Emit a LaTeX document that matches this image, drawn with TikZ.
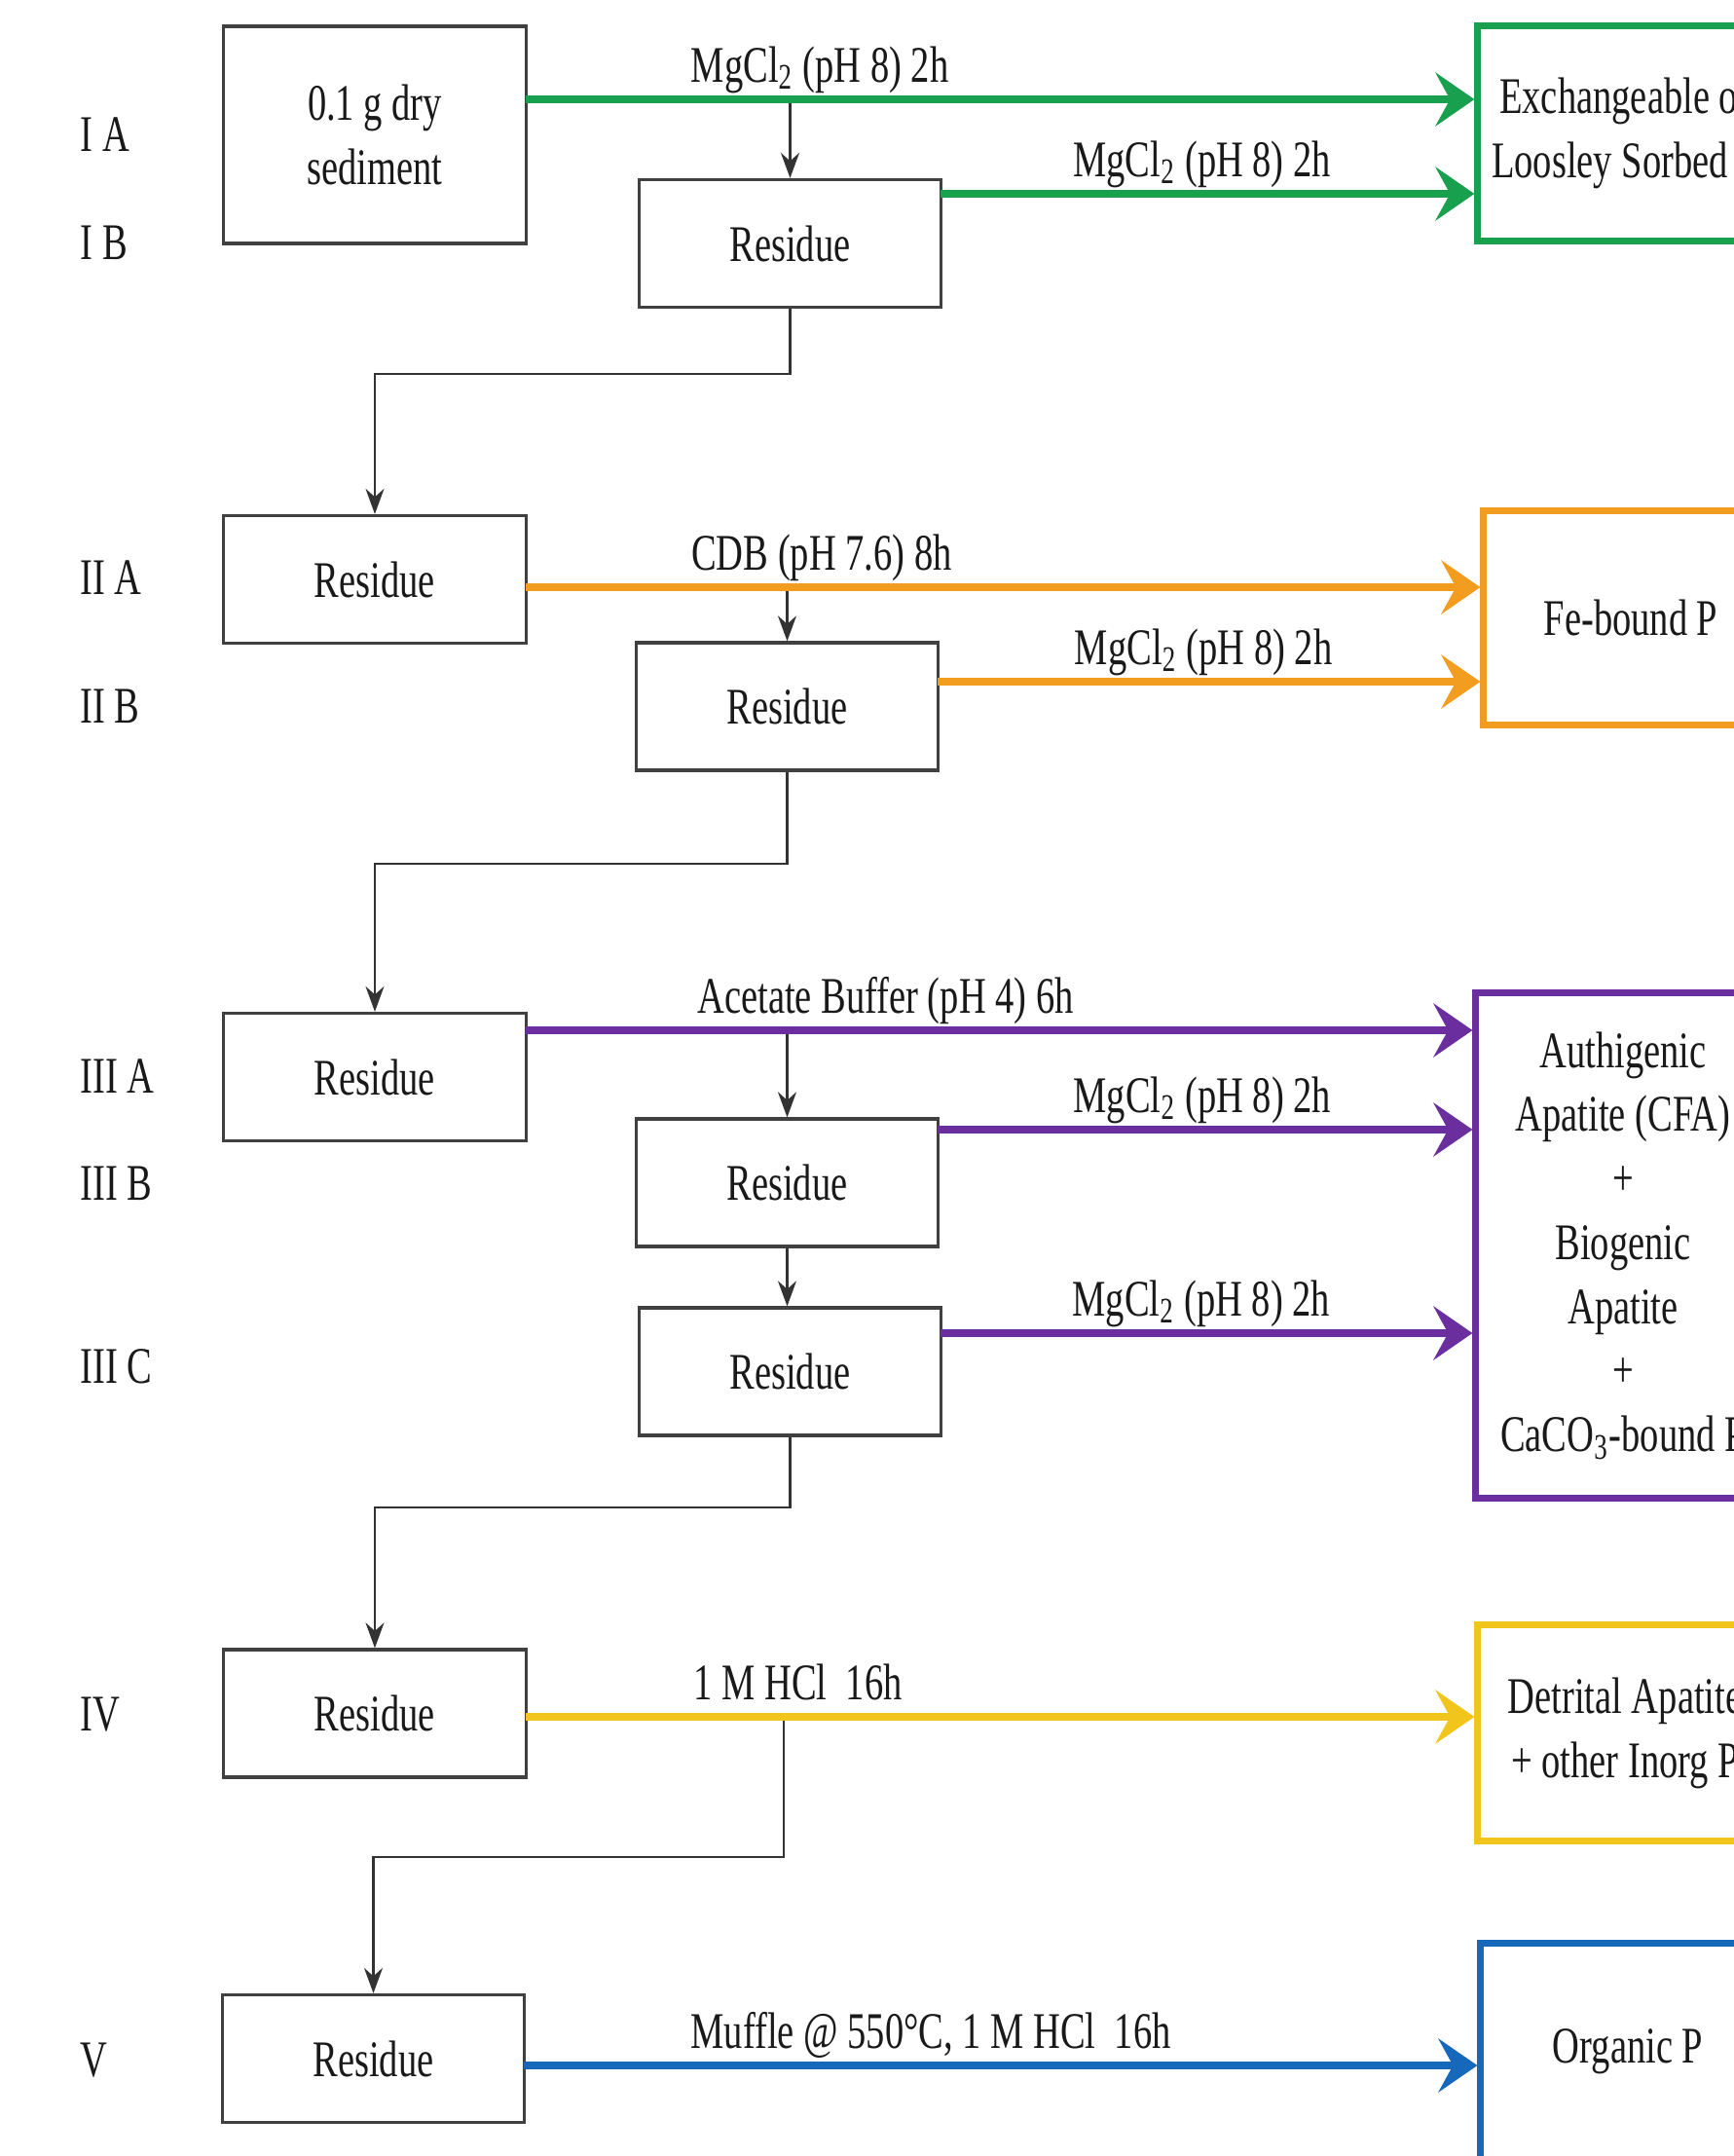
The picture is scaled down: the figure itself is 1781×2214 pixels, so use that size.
\documentclass[tikz,border=0pt]{standalone}
\usepackage{fontspec}
\setmainfont{Liberation Serif}[FakeStretch=0.73]
\usetikzlibrary{arrows.meta}
\definecolor{pgreen}{RGB}{24,160,78}
\definecolor{porange}{RGB}{243,157,32}
\definecolor{ppurple}{RGB}{106,46,158}
\definecolor{pyellow}{RGB}{242,197,28}
\definecolor{pblue}{RGB}{22,104,186}
\begin{document}
\begin{tikzpicture}[x=0.01cm,y=-0.01cm]
\tikzstyle{every node}+=[font=\fontsize{15pt}{18.7pt}\selectfont, text=black!90]
\tikzstyle{res}=[draw=black!75, line width=0.9pt, minimum width=3.1cm, minimum height=1.31cm, inner sep=0pt, align=center]
\tikzstyle{pool}=[line width=2pt, minimum width=3.02cm, inner sep=0pt, align=center]
\tikzstyle{flow}=[line width=2.2pt, -{Stealth[length=0.4cm,width=0.55cm,inset=0.15cm]}]
\tikzstyle{drop}=[draw=black!80, line width=0.6pt, -{Stealth[length=0.26cm,width=0.19cm]}]
\tikzstyle{lbl}=[anchor=base, yshift=1.8mm, inner sep=0pt]
\tikzstyle{row}=[anchor=west, inner sep=0pt]
\useasboundingbox (0,0) rectangle (1781,2214);
\fill [white] (0,0) rectangle (1781,2214);
\clip (0,0) rectangle (1781,2214);
\node [row] (tIA) at (82,138) {I A};
\node [row] (tIB) at (82,249) {I B};
\node [row] (tIIA) at (82,593) {II A};
\node [row] (tIIB) at (82,725) {II B};
\node [row] (tIIIA) at (82,1105) {III A};
\node [row] (tIIIB) at (82,1215) {III B};
\node [row] (tIIIC) at (82,1403) {III C};
\node [row] (tIV) at (82,1761) {IV};
\node [row] (tV) at (82,2116) {V};
\node [res, minimum height=2.23cm] (b0) at (385,138.5) {0.1 g dry\\sediment};
\node [res] (r1b) at (811.5,250) {Residue};
\node [res] (r2a) at (385,595) {Residue};
\node [res] (r2b) at (808.5,725.5) {Residue};
\node [res] (r3a) at (385,1106) {Residue};
\node [res] (r3b) at (808.5,1214.5) {Residue};
\node [res] (r3c) at (811.5,1408.5) {Residue};
\node [res] (r4) at (385,1759.5) {Residue};
\node [res] (r5) at (383.5,2114) {Residue};
\node [pool, draw=pgreen, minimum height=2.2cm] (ex) at (1669,137) {Exchangeable or\\Loosley Sorbed P};
\node [pool, draw=porange, minimum height=2.19cm] (fe) at (1675,634.5) {Fe-bound P};
\node [pool, draw=ppurple, minimum height=5.18cm] (ap) at (1667,1279) {Authigenic\\Apatite (CFA)\\+\\Biogenic\\Apatite\\+\\CaCO\textsubscript{3}-bound P};
\node [pool, draw=pyellow, minimum height=2.21cm] (dt) at (1669,1779.5) {Detrital Apatite\\+ other Inorg P};
\node [pool, draw=pblue, minimum height=2.22cm] (org) at (1672,2107) {Organic P};
\coordinate (a1) at (540,102);
\coordinate (m1) at (966,199);
\coordinate (a2) at (540,603);
\coordinate (m2) at (963,700);
\coordinate (a3) at (540,1058);
\coordinate (m3) at (963,1160);
\coordinate (m4) at (966,1369);
\coordinate (a4) at (540,1763);
\coordinate (a5) at (538,2121);
\coordinate (k1) at (600,384);
\coordinate (k2) at (600,887);
\coordinate (k3) at (600,1548);
\coordinate (k4) at (805,1907);
\draw [drop] (a1 -| r1b.north) -- (r1b.north);
\draw [drop] (r1b.south) |- (k1) -| (r2a.north);
\draw [drop] (a2 -| r2b.north) -- (r2b.north);
\draw [drop] (r2b.south) |- (k2) -| (r3a.north);
\draw [drop] (a3 -| r3b.north) -- (r3b.north);
\draw [drop] (r3b.south) -- (r3c.north -| r3b.south);
\draw [drop] (r3c.south) |- (k3) -| (r4.north);
\draw [drop] (a4 -| k4) -- (k4) -| (r5.north);
\draw [flow, pgreen] (a1) -- node [lbl, pos=0.31] {MgCl\textsubscript{2} (pH 8) 2h} (a1 -| ex.west);
\draw [flow, pgreen] (m1) -- node [lbl, pos=0.49] {MgCl\textsubscript{2} (pH 8) 2h} (m1 -| ex.west);
\draw [flow, porange] (a2) -- node [lbl, pos=0.31] {CDB (pH 7.6) 8h} (a2 -| fe.west);
\draw [flow, porange] (m2) -- node [lbl, pos=0.49] {MgCl\textsubscript{2} (pH 8) 2h} (m2 -| fe.west);
\draw [flow, ppurple] (a3) -- node [lbl, pos=0.38] {Acetate Buffer (pH 4) 6h} (a3 -| ap.west);
\draw [flow, ppurple] (m3) -- node [lbl, pos=0.495] {MgCl\textsubscript{2} (pH 8) 2h} (m3 -| ap.west);
\draw [flow, ppurple] (m4) -- node [lbl, pos=0.49] {MgCl\textsubscript{2} (pH 8) 2h} (m4 -| ap.west);
\draw [flow, pyellow] (a4) -- node [lbl, pos=0.287] {1 M HCl~~16h} (a4 -| dt.west);
\draw [flow, pblue] (a5) -- node [lbl, pos=0.427] {Muffle @ 550°C, 1 M HCl~~16h} (a5 -| org.west);
\end{tikzpicture}
\end{document}
